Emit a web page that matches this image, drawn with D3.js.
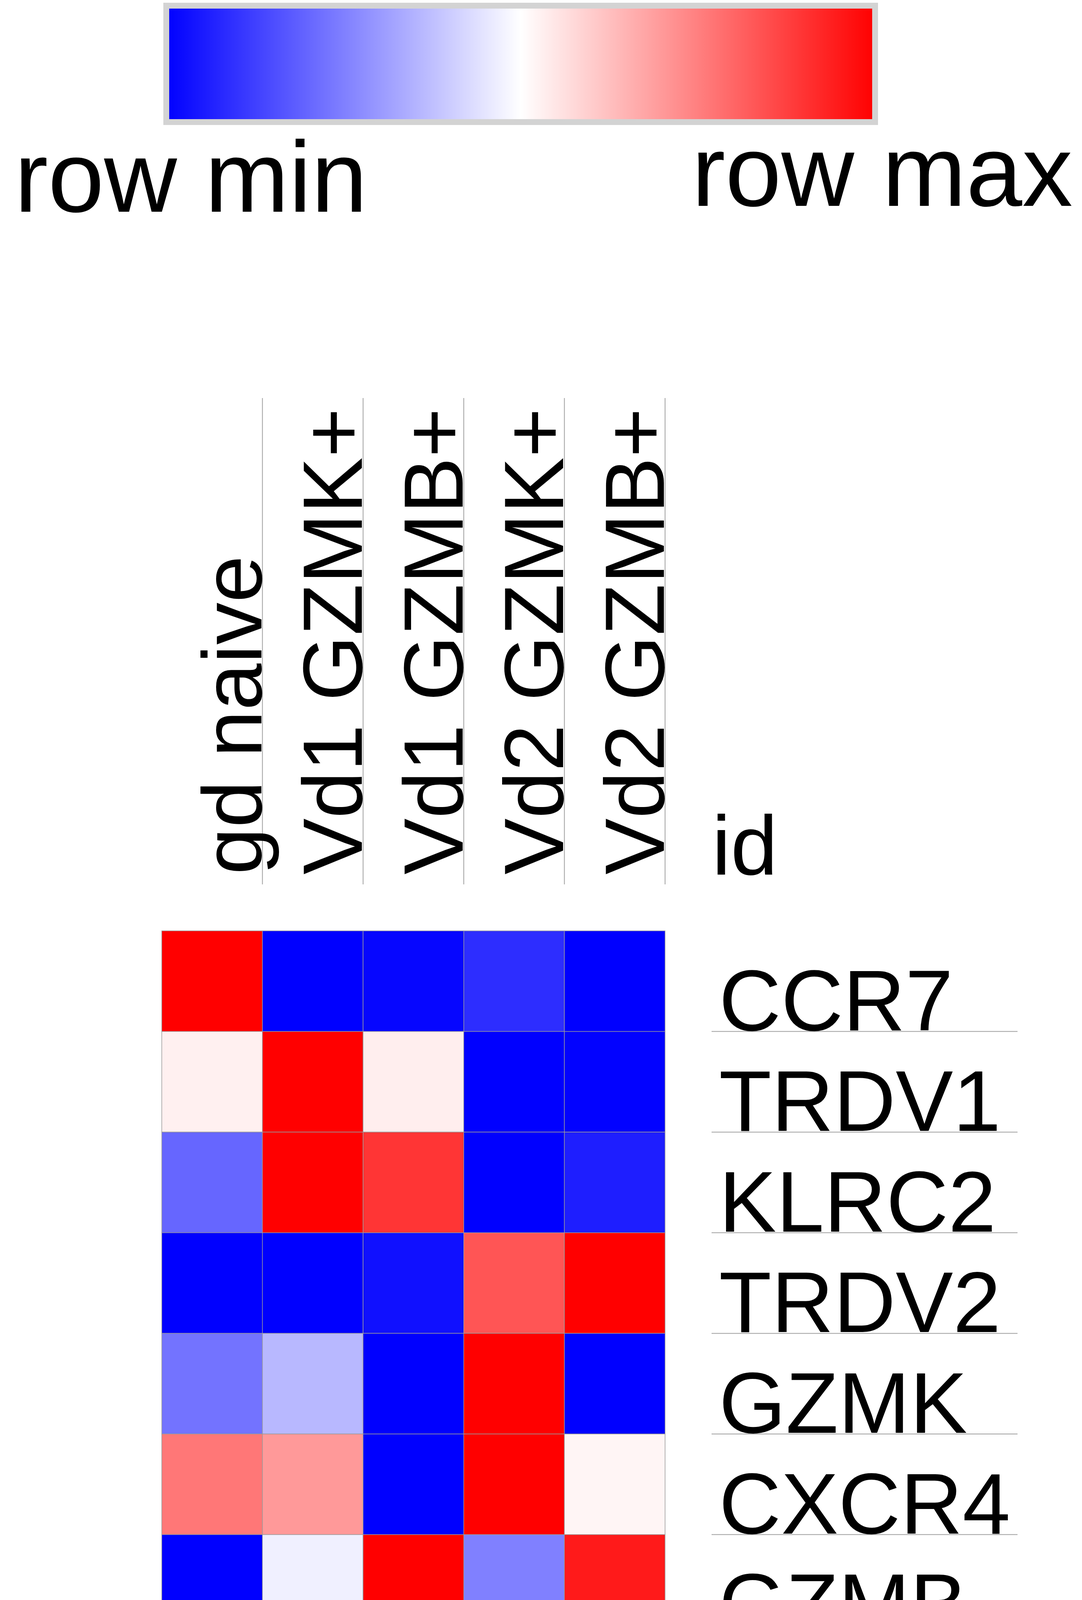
<!DOCTYPE html>
<html>
<head>
<meta charset="utf-8">
<script src="https://cdn.jsdelivr.net/npm/d3@7"></script>
<style>
  html, body { margin: 0; padding: 0; background: #ffffff; }
  svg { display: block; }
  text { font-family: "Liberation Sans", Arial, Helvetica, sans-serif; fill: #000; }
</style>
</head>
<body>
<script>
// ---- data ----
const columns = ["gd naive", "Vd1 GZMK+", "Vd1 GZMB+", "Vd2 GZMK+", "Vd2 GZMB+"];
const genes = ["CCR7", "TRDV1", "KLRC2", "TRDV2", "GZMK", "CXCR4", "GZMB"];
// relative expression per row (row min -> row max)
const CCR7  = [1.00, 0.00, 0.012, 0.088, 0.00];
const TRDV1 = [0.53, 1.00, 0.533, 0.00, 0.004];
const KLRC2 = [0.20, 1.00, 0.896, 0.00, 0.059];
const TRDV2 = [0.00, 0.00, 0.031, 0.833, 1.00];
const GZMK  = [0.225, 0.361, 0.00, 1.00, 0.00];
const CXCR4 = [0.767, 0.70, 0.00, 1.00, 0.52];
const GZMB  = [0.00, 0.47, 1.00, 0.25, 0.95];
const rowValues = [CCR7, TRDV1, KLRC2, TRDV2, GZMK, CXCR4, GZMB];
const legendLabels = ["row min", "row max"];
const colorStops = ["#0000ff", "#ffffff", "#ff0000"];
const idLabel = "id";

// ---- layout ----
const W = 2769, H = 4200;
const cellSize = 257.6;
const hmLeft = 414, hmTop = 2383;

const svg = d3.select("body").append("svg")
  .attr("width", W).attr("height", H)
  .attr("viewBox", `0 0 ${W} ${H}`);

// colour bar
const defs = svg.append("defs");
const grad = defs.append("linearGradient").attr("id", "rowgrad")
  .attr("x1", "0%").attr("x2", "100%").attr("y1", "0%").attr("y2", "0%");
grad.selectAll("stop").data(colorStops).join("stop")
  .attr("offset", (d, i) => (i / (colorStops.length - 1) * 100) + "%")
  .attr("stop-color", d => d);

svg.append("rect")
  .attr("x", 425.5).attr("y", 14.5)
  .attr("width", 1814).attr("height", 298)
  .attr("fill", "url(#rowgrad)")
  .attr("stroke", "#d3d3d3").attr("stroke-width", 15);

svg.append("text").text(legendLabels[0])
  .attr("x", 37).attr("y", 542)
  .attr("font-size", 258);
svg.append("text").text(legendLabels[1])
  .attr("x", 2745).attr("y", 527)
  .attr("text-anchor", "end")
  .attr("font-size", 258);

// scales
const x = d3.scaleBand().domain(columns).range([hmLeft, hmLeft + cellSize * columns.length]);
const y = d3.scaleBand().domain(genes).range([hmTop, hmTop + cellSize * genes.length]);
const bw = x.bandwidth(), bh = y.bandwidth();

// column header lines and labels
const hdr = svg.append("g");
hdr.selectAll("line").data(columns).join("line")
  .attr("x1", d => x(d) + bw).attr("x2", d => x(d) + bw)
  .attr("y1", 1019).attr("y2", 2264)
  .attr("stroke", "#a0a0a0").attr("stroke-width", 2);
hdr.selectAll("text").data(columns).join("text")
  .text(d => d)
  .attr("transform", d => `translate(${x(d) + bw - 3},2239) rotate(-90)`)
  .attr("font-size", 216);

svg.append("text").text(idLabel)
  .attr("x", 1822).attr("y", 2239)
  .attr("font-size", 216);

// heatmap cells
const cells = [];
genes.forEach((g, r) => {
  const vals = rowValues[r];
  const [mn, mx] = d3.extent(vals);
  const color = d3.scaleLinear().domain([mn, (mn + mx) / 2, mx]).range(colorStops)
    .interpolate(d3.interpolateRgb);
  vals.forEach((v, c) => cells.push({ gene: g, col: columns[c], v, fill: color(v) }));
});

svg.append("g").selectAll("rect").data(cells).join("rect")
  .attr("x", d => x(d.col)).attr("y", d => y(d.gene))
  .attr("width", bw).attr("height", bh)
  .attr("fill", d => d.fill)
  .attr("stroke", "#999999").attr("stroke-width", 1.5);

// row labels with underlines
const rl = svg.append("g");
rl.selectAll("line").data(genes).join("line")
  .attr("x1", 1821).attr("x2", 2604)
  .attr("y1", d => y(d) + bh).attr("y2", d => y(d) + bh)
  .attr("stroke", "#a0a0a0").attr("stroke-width", 2);
rl.selectAll("text").data(genes).join("text")
  .text(d => d)
  .attr("x", 1840).attr("y", d => y(d) + bh - 3)
  .attr("font-size", 220);
</script>
</body>
</html>
